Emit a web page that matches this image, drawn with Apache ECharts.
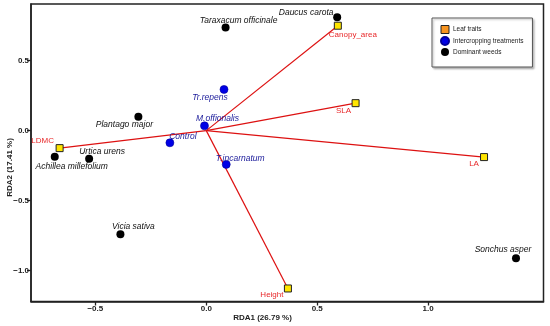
<!DOCTYPE html>
<html>
<head>
<meta charset="utf-8">
<script src="https://cdn.jsdelivr.net/npm/echarts@6/dist/echarts.min.js"></script>
<style>
html,body{margin:0;padding:0;background:#fff;}
#chart{width:550px;height:326px;}
</style>
</head>
<body>
<div id="chart"></div>
<script>
// ---- data ----
const traitNames = ['Canopy_area', 'SLA', 'LA', 'Height', 'LDMC'];
const traitX = [0.593, 0.673, 1.252, 0.368, -0.661];
const traitY = [0.749, 0.196, -0.189, -1.127, -0.125];

const treatNames = ['Tr.repens', 'M.offionalis', 'Control', 'T.incarnatum'];
const treatX = [0.080, -0.008, -0.164, 0.090];
const treatY = [0.294, 0.034, -0.087, -0.241];

const weedNames = ['Taraxacum officinale', 'Daucus carota', 'Plantago major', 'Urtica urens', 'Achillea millefolium', 'Vicia sativa', 'Sonchus asper'];
const weedX = [0.087, 0.590, -0.306, -0.528, -0.683, -0.387, 1.396];
const weedY = [0.737, 0.810, 0.099, -0.201, -0.187, -0.739, -0.911];

const xTicks = [-0.5, 0.0, 0.5, 1.0];
const yTicks = [-1.0, -0.5, 0.0, 0.5];

const legendNames = ['Leaf traits', 'Intercropping treatments', 'Dominant weeds'];
const xTitle = 'RDA1 (26.79 %)';
const yTitle = 'RDA2 (17.41 %)';

// ---- label placement (pixel offsets, layout only) ----
const labelOffsets = {
  'Canopy_area': [15, 9], 'SLA': [-12, 8], 'LA': [-10, 7], 'Height': [-16, 6], 'LDMC': [-17, -7],
  'Tr.repens': [-14, 8], 'M.offionalis': [13, -7], 'Control': [13, -6], 'T.incarnatum': [14, -6],
  'Taraxacum officinale': [13, -7], 'Daucus carota': [-31, -5], 'Plantago major': [-14, 8],
  'Urtica urens': [13, -7], 'Achillea millefolium': [17, 10], 'Vicia sativa': [13, -7], 'Sonchus asper': [-13, -9]
};

const FONT = 'Liberation Sans, Arial, sans-serif';
const fmt = v => (v < 0 ? '\u2212' : '') + Math.abs(v).toFixed(1);

function pts(names, xs, ys, color, italic) {
  return names.map((n, i) => ({
    name: n,
    value: [xs[i], ys[i]],
    label: {
      show: true, formatter: n, position: 'inside', offset: labelOffsets[n],
      color: color, fontSize: italic ? 8.5 : 8, fontStyle: italic ? 'italic' : 'normal', fontFamily: FONT,
      align: 'center', verticalAlign: 'middle'
    }
  }));
}

const vectorSeries = traitNames.map((n, i) => ({
  type: 'line', silent: true, symbol: 'none', z: 1,
  lineStyle: { color: '#DD1111', width: 1.2 },
  data: [[0, 0], [traitX[i], traitY[i]]]
}));

const option = {
  animation: false,
  grid: { left: 31, top: 4, right: 6.5, bottom: 24.5, show: true, borderColor: '#222', borderWidth: 1.5 },
  xAxis: {
    type: 'value', min: -0.79, max: 1.52,
    splitLine: { show: false },
    axisLine: { onZero: false, lineStyle: { color: '#222', width: 1.5 } },
    axisTick: { customValues: xTicks, length: 4, lineStyle: { color: '#222', width: 1.3 } },
    axisLabel: { customValues: xTicks, formatter: fmt, fontSize: 8, fontWeight: 'bold', color: '#222', margin: 3, fontFamily: FONT }
  },
  yAxis: {
    type: 'value', min: -1.22, max: 0.904,
    splitLine: { show: false },
    axisLine: { onZero: false, lineStyle: { color: '#222', width: 1.5 } },
    axisTick: { customValues: yTicks, length: 4, lineStyle: { color: '#222', width: 1.3 } },
    axisLabel: { customValues: yTicks, formatter: fmt, fontSize: 8, fontWeight: 'bold', color: '#222', margin: 2, fontFamily: FONT }
  },
  legend: {
    orient: 'vertical', left: 432, top: 18, width: 100,
    padding: [7, 9, 11, 8], itemGap: 2, itemWidth: 8, itemHeight: 8,
    borderColor: '#555', borderWidth: 1, backgroundColor: '#fff',
    shadowColor: 'rgba(0,0,0,0.25)', shadowBlur: 2, shadowOffsetX: 1.5, shadowOffsetY: 1.5,
    textStyle: { fontSize: 6.5, color: '#222', fontFamily: FONT, padding: [0, 0, 0, -1] },
    data: [
      { name: legendNames[0], icon: 'rect', itemStyle: { color: '#F79420', borderColor: '#222', borderWidth: 1 } },
      { name: legendNames[1], icon: 'circle', itemStyle: { color: '#0000E6' } },
      { name: legendNames[2], icon: 'circle', itemStyle: { color: '#000' } }
    ]
  },
  graphic: [
    { type: 'text', x: 262.5, y: 317.5, style: { text: xTitle, fontSize: 8, fontWeight: 'bold', fill: '#222', fontFamily: FONT, align: 'center', verticalAlign: 'middle' } },
    { type: 'text', x: 10, y: 167.5, rotation: Math.PI / 2, style: { text: yTitle, fontSize: 8, fontWeight: 'bold', fill: '#222', fontFamily: FONT, align: 'center', verticalAlign: 'middle' } }
  ],
  series: vectorSeries.concat([
    {
      name: legendNames[0], type: 'scatter', symbol: 'rect', symbolSize: 7, z: 3,
      itemStyle: { color: '#FFE500', borderColor: '#222', borderWidth: 1, opacity: 1 },
      data: pts(traitNames, traitX, traitY, '#E8282A', false)
    },
    {
      name: legendNames[1], type: 'scatter', symbol: 'circle', symbolSize: 8, z: 3,
      itemStyle: { color: '#0000E6', borderColor: '#00009A', borderWidth: 0.6, opacity: 1 },
      data: pts(treatNames, treatX, treatY, '#1A1A9A', true)
    },
    {
      name: legendNames[2], type: 'scatter', symbol: 'circle', symbolSize: 8, z: 3,
      itemStyle: { color: '#000', opacity: 1 },
      data: pts(weedNames, weedX, weedY, '#111', true)
    }
  ])
};

const chart = echarts.init(document.getElementById('chart'), null, { renderer: 'canvas' });
chart.setOption(option);
</script>
</body>
</html>
